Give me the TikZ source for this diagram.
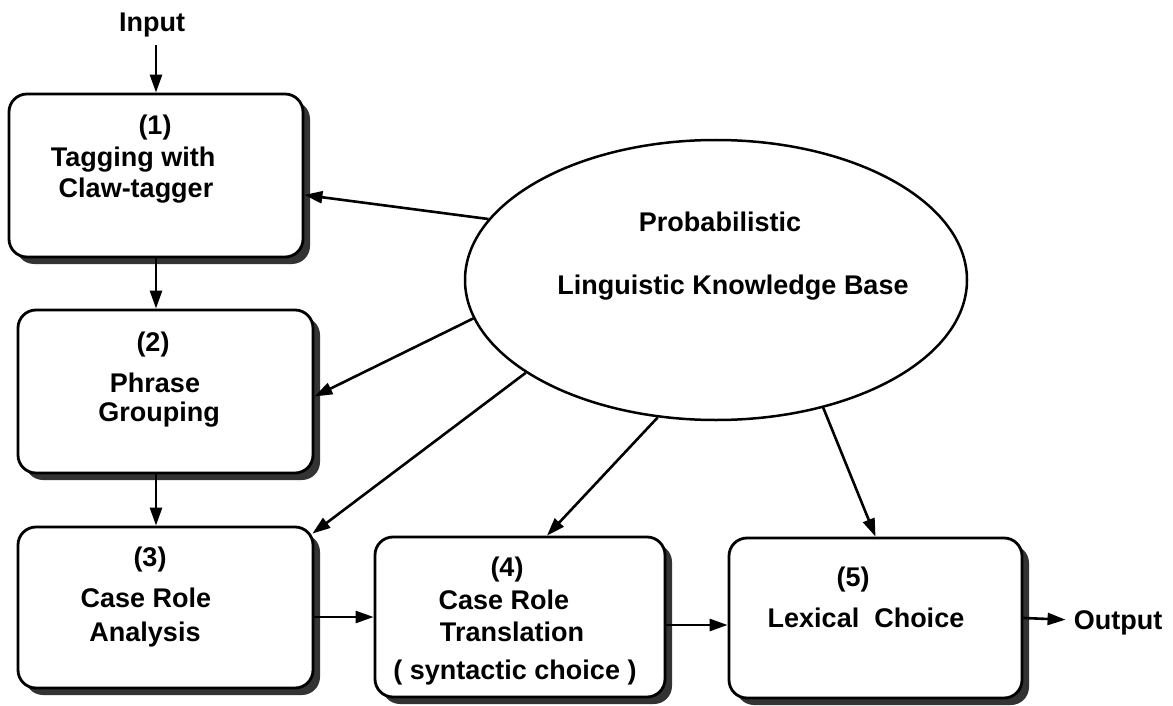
\documentclass[tikz,border=0pt]{standalone}
\usepackage{fontspec}
\setmainfont{Liberation Sans}
\usetikzlibrary{arrows.meta,shapes.geometric,shadows,calc}
\begin{document}
\begin{tikzpicture}[x=1pt,y=-1pt,
  stage/.style={draw, line width=2.8pt, rounded corners=18pt, fill=white, inner sep=0pt,
    drop shadow={shadow xshift=7pt, shadow yshift=-7pt, fill=black!80, opacity=1}},
  lbl/.style={font=\fontsize{27}{30}\selectfont\bfseries, inner sep=0pt, text height=19.5pt, text depth=0pt},
  arr/.style={line width=2.6pt, -{Triangle[length=18pt,width=12pt]}},
  kb/.style={draw, ellipse, line width=2.5pt, minimum width=502pt, minimum height=280pt, inner sep=0pt}]
\useasboundingbox (0,0) rectangle (1173,706);
\fill[white] (0,0) rectangle (1173,706);

% boxes
\node[stage, minimum width=294pt, minimum height=163pt] (b1) at (156,175.5) {};
\node[stage, minimum width=295pt, minimum height=163pt] (b2) at (165.5,391.5) {};
\node[stage, minimum width=295pt, minimum height=161pt] (b3) at (165.5,607.5) {};
\node[stage, minimum width=290pt, minimum height=160pt] (b4) at (520,617) {};
\node[stage, minimum width=293pt, minimum height=160pt] (b5) at (875.5,618) {};
\node[kb] (kb) at (716,280) {};

% texts
\node[lbl] (in) at (152,22) {Input};
\node[lbl] (out) at (1118,620) {Output};

\node[lbl] (t1a) at (155,125) {(1)};
\node[lbl] (t1b) at (133,157) {Tagging with};
\node[lbl] (t1c) at (136,188) {Claw-tagger};

\node[lbl] (t2a) at (153,342) {(2)};
\node[lbl] (t2b) at (155,383) {Phrase};
\node[lbl] (t2c) at (159,412) {Grouping};

\node[lbl] (t3a) at (150,557) {(3)};
\node[lbl] (t3b) at (146,598) {Case Role};
\node[lbl] (t3c) at (145,632) {Analysis};

\node[lbl] (t4a) at (507,567) {(4)};
\node[lbl] (t4b) at (504,600) {Case Role};
\node[lbl] (t4c) at (512,632) {Translation};
\node[lbl] (t4d) at (515,670) {( syntactic choice )};

\node[lbl] (t5a) at (853,577) {(5)};
\node[lbl] (t5b) at (866,618) {Lexical\ \ Choice};

\node[lbl] (k1) at (720,222) {Probabilistic};
\node[lbl] (k2) at (733,285) {Linguistic Knowledge Base};

% flow arrows
\draw[arr, shorten <=13pt] (b1.north |- in.south) -- (b1.north);
\draw[arr] (b1.south) -- (b1.south |- b2.north);
\draw[arr] (b1.south |- b2.south) -- (b1.south |- b3.north);
\draw[arr] (b3.east |- b4.west) -- (b4.west);
\draw[arr] ([yshift=-8pt]b4.east) -- ([yshift=-8pt]b4.east -| b5.west);
\draw[arr, shorten >=8pt] (b5.east) -- (out.west);

% knowledge base arrows
\draw[arr] (kb.165) -- (b1);
\draw[arr] (kb.189) -- ([yshift=-5pt]b2.east);
\draw[arr] (kb.206) -- ($(b3.north east)+(-2,8)$);
\draw[arr] (kb.247) -- ($(b4.north)+(27,0)$);
\draw[arr] (kb.310) -- (b5.north);
\end{tikzpicture}
\end{document}
